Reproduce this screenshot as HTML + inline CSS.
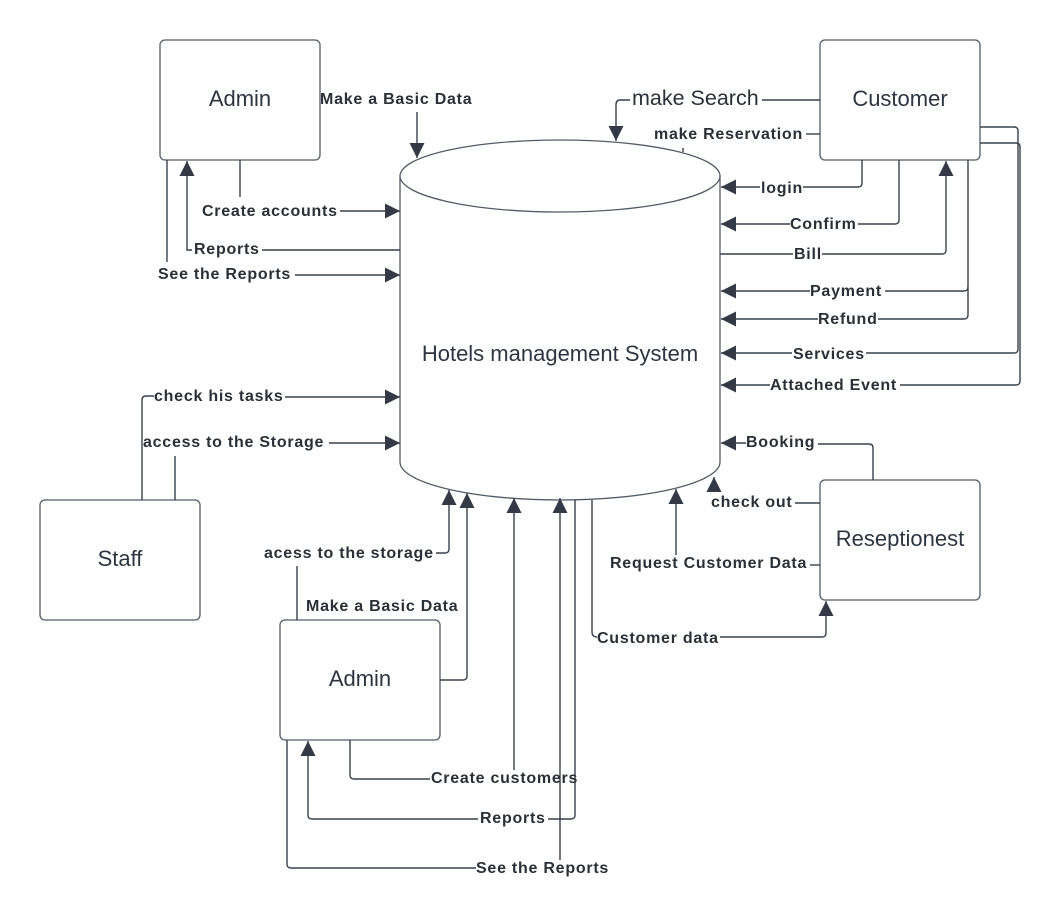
<!DOCTYPE html>
<html><head><meta charset="utf-8"><style>
html,body{margin:0;padding:0;background:#fff;}
svg{display:block;}
.b{font-family:"Liberation Sans",sans-serif;font-weight:bold;font-size:16px;letter-spacing:0.75px;fill:#2b2f36;}
.n{font-family:"Liberation Sans",sans-serif;font-size:22px;fill:#2f3540;}
</style></head><body>
<svg width="1061" height="921" viewBox="0 0 1061 921" xmlns="http://www.w3.org/2000/svg">
<defs>
<marker id="a" viewBox="0 0 10 10" refX="10" refY="5" markerWidth="15" markerHeight="15" markerUnits="userSpaceOnUse" orient="auto">
<path d="M0,0 L10,5 L0,10 z" fill="#343a45"/></marker>
</defs>
<g fill="#fff" stroke="#555b66" stroke-width="1.3">
<rect x="160" y="40" width="160" height="120" rx="5"/>
<rect x="820" y="40" width="160" height="120" rx="5"/>
<rect x="40" y="500" width="160" height="120" rx="5"/>
<rect x="280" y="620" width="160" height="120" rx="5"/>
<rect x="820" y="480" width="160" height="120" rx="5"/>
<path d="M400,176 L400,462 A160,38 0 0 0 720,462 L720,176"/>
<ellipse cx="560" cy="176" rx="160" ry="36"/>
</g>
<text class="n" x="240" y="106" text-anchor="middle">Admin</text>
<text class="n" x="900" y="106" text-anchor="middle">Customer</text>
<text class="n" x="120" y="566" text-anchor="middle">Staff</text>
<text class="n" x="360" y="686" text-anchor="middle">Admin</text>
<text class="n" x="900" y="546" text-anchor="middle">Reseptionest</text>
<text class="n" x="560" y="361" text-anchor="middle">Hotels management System</text>

<g fill="none" stroke="#3a404b" stroke-width="1.4">
<path d="M417,112 L417,158" marker-end="url(#a)"/>
<path d="M240,160 L240,197"/>
<path d="M340,211 L400,211" marker-end="url(#a)"/>
<path d="M400,250 L262,250"/>
<path d="M192,250 L187,250 L187,161" marker-end="url(#a)"/>
<path d="M167,160 L167,262"/>
<path d="M295,275 L400,275" marker-end="url(#a)"/>
<path d="M820,100 L762,100"/>
<path d="M630,100 L620,100 Q616,100 616,105 L616,141" marker-end="url(#a)"/>
<path d="M806,134 L820,134"/>
<path d="M862,160 L862,183 Q862,187 858,187 L803,187"/>
<path d="M760,187 L721,187" marker-end="url(#a)"/>
<path d="M899,160 L899,220 Q899,224 895,224 L858,224"/>
<path d="M790,224 L721,224" marker-end="url(#a)"/>
<path d="M720,254 L793,254"/>
<path d="M822,254 L942,254 Q946,254 946,250 L946,161" marker-end="url(#a)"/>
<path d="M968,160 L968,287 Q968,291 964,291 L885,291"/>
<path d="M810,291 L721,291" marker-end="url(#a)"/>
<path d="M968,287 L968,315 Q968,319 964,319 L878,319"/>
<path d="M818,319 L721,319" marker-end="url(#a)"/>
<path d="M980,127 L1014,127 Q1018,127 1018,131 L1018,349 Q1018,353 1014,353 L866,353"/>
<path d="M792,353 L721,353" marker-end="url(#a)"/>
<path d="M980,143 L1016,143 Q1020,143 1020,147 L1020,381 Q1020,385 1016,385 L900,385"/>
<path d="M770,385 L721,385" marker-end="url(#a)"/>
<path d="M142,500 L142,400 Q142,396 146,396 L154,396"/>
<path d="M285,397 L400,397" marker-end="url(#a)"/>
<path d="M175,500 L175,456"/>
<path d="M329,443 L400,443" marker-end="url(#a)"/>
<path d="M873,480 L873,448 Q873,444 869,444 L818,444"/>
<path d="M746,443 L721,443" marker-end="url(#a)"/>
<path d="M820,503 L795,503"/>
<path d="M714,490 L714,477" marker-end="url(#a)"/>
<path d="M810,565 L820,565"/>
<path d="M676,555 L676,489" marker-end="url(#a)"/>
<path d="M592,500 L592,632 Q592,637 597,637"/>
<path d="M720,637 L822,637 Q826,637 826,633 L826,601" marker-end="url(#a)"/>
<path d="M297,620 L297,566"/>
<path d="M436,553 L445,553 Q449,553 449,549 L449,490" marker-end="url(#a)"/>
<path d="M440,680 L463,680 Q467,680 467,676 L467,493" marker-end="url(#a)"/>
<path d="M350,740 L350,775 Q350,779 354,779 L430,779"/>
<path d="M514,770 L514,498" marker-end="url(#a)"/>
<path d="M575,500 L575,815 Q575,819 571,819 L548,819"/>
<path d="M478,819 L312,819 Q308,819 308,815 L308,741" marker-end="url(#a)"/>
<path d="M287,740 L287,864 Q287,868 291,868 L476,868"/>
<path d="M560,860 L560,498" marker-end="url(#a)"/>
<path d="M683,148 L683,152"/>
</g>

<g class="b">
<text x="320" y="104">Make a Basic Data</text>
<text x="202" y="216">Create accounts</text>
<text x="194" y="254">Reports</text>
<text x="158" y="279">See the Reports</text>
<text x="632" y="105" style="font-weight:normal;font-size:21.5px;letter-spacing:0">make Search</text>
<text x="654" y="139">make Reservation</text>
<text x="761" y="193">login</text>
<text x="790" y="229">Confirm</text>
<text x="794" y="259">Bill</text>
<text x="810" y="296">Payment</text>
<text x="818" y="324">Refund</text>
<text x="793" y="359">Services</text>
<text x="770" y="390">Attached Event</text>
<text x="154" y="401">check his tasks</text>
<text x="143" y="447">access to the Storage</text>
<text x="746" y="447">Booking</text>
<text x="711" y="507">check out</text>
<text x="610" y="568">Request Customer Data</text>
<text x="597" y="643">Customer data</text>
<text x="264" y="558">acess to the storage</text>
<text x="306" y="611">Make a Basic Data</text>
<text x="431" y="783">Create customers</text>
<text x="480" y="823">Reports</text>
<text x="476" y="873">See the Reports</text>
</g>
</svg>
</body></html>
